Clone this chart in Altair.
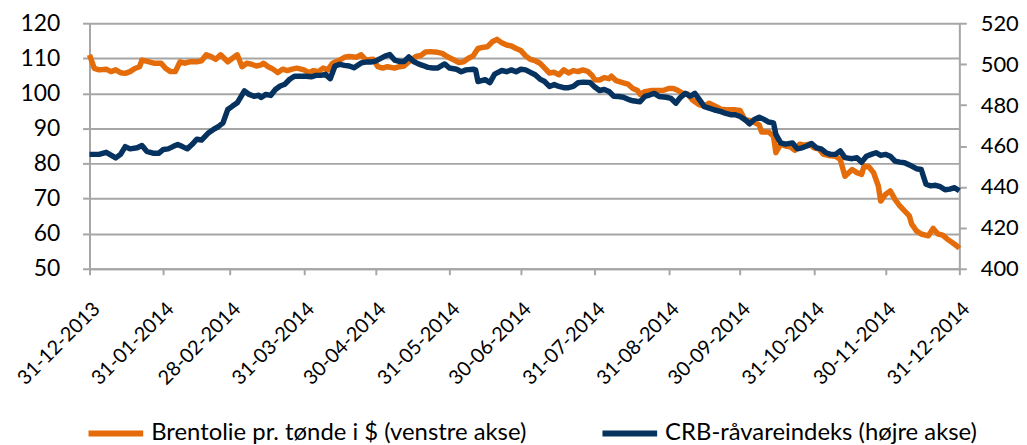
import altair as alt
import pandas as pd

START = "2013-12-31"
BRENT_LABEL = "Brentolie pr. tønde i $ (venstre akse)"
CRB_LABEL = "CRB-råvareindeks (højre akse)"

brent_days = [0, 2, 4, 7, 9, 11, 13, 15, 17, 19, 21, 22, 25, 27, 30, 32, 34, 36, 38, 40,
              42, 45, 47, 49, 51, 53, 55, 58, 60, 62, 64, 66, 68, 70, 72, 73, 75, 77, 79, 81,
              83, 85, 87, 90, 92, 94, 96, 98, 100, 102, 105, 107, 109, 112, 114, 116, 119, 121, 123, 125,
              128, 130, 132, 134, 137, 139, 141, 143, 146, 148, 150, 153, 155, 157, 159, 161, 163, 165, 167, 169,
              171, 173, 175, 177, 179, 181, 183, 185, 187, 189, 191, 193, 195, 197, 199, 201, 203, 205, 207, 209,
              211, 212, 214, 216, 218, 219, 221, 224, 226, 228, 230, 231, 233, 236, 239, 241, 243, 245, 247, 249,
              251, 253, 256, 258, 260, 263, 265, 268, 271, 273, 275, 277, 279, 281, 282, 285, 287, 288, 290, 292,
              294, 296, 298, 300, 302, 304, 306, 308, 310, 313, 315, 316, 317, 320, 322, 324, 325, 327, 329, 331,
              332, 334, 336, 338, 340, 342, 344, 345, 347, 349, 352, 354, 356, 358, 360, 362, 364, 365]
brent_vals = [111.0, 107.1, 106.7, 106.9, 106.2, 106.7, 105.9, 105.7, 106.2, 107.1, 107.6, 109.5, 109.0, 108.6, 108.6, 107.1, 106.2, 106.2, 109.0, 108.6,
              109.0, 109.0, 109.3, 111.0, 110.5, 109.7, 111.0, 109.0, 110.0, 111.0, 107.6, 108.6, 108.3, 107.8, 108.1, 108.6, 107.6, 106.9, 105.9, 106.9,
              106.5, 106.9, 107.2, 106.7, 105.9, 106.5, 106.2, 107.2, 106.7, 108.6, 109.5, 110.3, 110.5, 110.3, 111.0, 109.5, 109.7, 107.6, 107.2, 107.6,
              107.2, 107.6, 107.8, 109.0, 110.5, 110.8, 111.8, 111.9, 111.7, 111.4, 110.5, 109.5, 108.8, 109.0, 110.0, 110.7, 112.8, 113.1, 113.3, 114.7,
              115.4, 114.4, 113.8, 113.5, 112.8, 112.2, 110.7, 109.7, 109.3, 108.6, 107.2, 105.8, 106.0, 105.3, 106.7, 105.8, 106.5, 106.2, 106.7, 106.3,
              105.0, 103.9, 103.8, 104.5, 104.2, 104.9, 103.6, 103.0, 102.6, 101.4, 100.8, 99.7, 100.5, 100.8, 100.8, 100.9, 101.4, 101.4, 100.8, 100.0,
              99.8, 98.1, 96.7, 96.4, 97.2, 96.2, 95.5, 95.3, 95.3, 95.1, 92.5, 92.3, 91.7, 91.0, 89.0, 89.0, 87.8, 83.1, 85.5, 85.0,
              84.8, 83.8, 85.5, 85.2, 85.5, 84.5, 84.2, 82.6, 82.3, 82.1, 81.2, 78.8, 76.4, 78.3, 77.4, 76.9, 79.3, 79.1, 77.4, 73.6,
              69.3, 71.2, 72.2, 69.8, 67.9, 66.5, 65.1, 62.7, 60.8, 59.9, 59.4, 61.5, 59.9, 59.6, 58.4, 57.5, 56.5, 55.8]

crb_days = [0, 2, 4, 7, 11, 13, 15, 17, 20, 22, 24, 27, 29, 31, 33, 35, 37, 39, 41, 43,
            45, 47, 50, 52, 54, 56, 58, 60, 62, 65, 67, 69, 71, 72, 74, 76, 78, 80, 82, 84,
            86, 88, 91, 93, 95, 97, 99, 101, 103, 105, 107, 109, 111, 114, 116, 118, 120, 122, 124, 126,
            128, 130, 132, 134, 136, 138, 140, 142, 144, 146, 149, 151, 154, 156, 158, 161, 162, 163, 166, 168,
            170, 173, 175, 177, 179, 181, 183, 185, 187, 189, 191, 193, 195, 197, 199, 201, 203, 205, 207, 210,
            212, 214, 216, 218, 220, 222, 224, 226, 228, 231, 233, 235, 237, 239, 242, 244, 246, 248, 250, 252,
            254, 256, 258, 260, 262, 265, 267, 269, 271, 273, 275, 277, 279, 281, 283, 285, 287, 288, 290, 292,
            295, 297, 299, 301, 303, 305, 307, 309, 311, 313, 315, 317, 320, 322, 324, 326, 328, 330, 332, 334,
            336, 338, 340, 342, 345, 347, 349, 351, 353, 355, 357, 359, 361, 363, 365]
crb_vals = [455.9, 455.9, 455.9, 456.9, 454.2, 455.9, 459.7, 458.6, 459.1, 460.2, 457.4, 456.4, 456.4, 458.3, 458.6, 459.7, 460.7, 459.7, 458.6, 460.7,
            463.3, 462.9, 466.5, 468.1, 469.4, 471.3, 477.8, 479.5, 481.1, 486.9, 485.2, 484.3, 484.8, 483.7, 485.2, 484.7, 487.6, 489.3, 490.2, 492.6,
            494.1, 494.1, 494.1, 493.8, 494.5, 494.5, 495.0, 492.9, 499.1, 499.9, 499.4, 499.1, 498.2, 500.6, 501.0, 501.0, 501.5, 502.7, 503.9, 504.7,
            502.0, 501.3, 501.3, 503.5, 501.3, 500.1, 499.3, 498.4, 498.1, 498.1, 500.1, 498.1, 497.5, 496.3, 497.2, 497.5, 497.2, 491.5, 492.4, 491.0,
            495.1, 496.9, 496.3, 497.2, 496.3, 497.5, 497.2, 496.0, 494.8, 492.7, 491.5, 489.1, 490.0, 489.1, 488.5, 488.5, 489.1, 490.9, 491.2, 491.0,
            488.8, 487.1, 487.6, 486.6, 484.3, 484.2, 483.8, 482.8, 482.1, 481.6, 484.2, 484.9, 485.7, 484.2, 483.8, 483.3, 480.9, 483.8, 485.7, 484.3,
            485.7, 482.5, 479.2, 478.5, 477.7, 476.8, 475.9, 475.3, 475.3, 474.4, 472.9, 470.8, 473.0, 474.1, 473.0, 471.7, 471.3, 465.7, 461.5, 460.9,
            461.5, 458.6, 459.1, 460.0, 461.2, 459.1, 458.6, 456.7, 455.9, 455.9, 457.6, 454.3, 453.8, 454.3, 452.1, 455.0, 455.9, 456.7, 455.4, 455.9,
            455.0, 452.6, 452.1, 451.8, 450.2, 448.9, 448.5, 441.3, 440.5, 440.8, 440.1, 438.6, 438.9, 439.6, 438.1]

tick_dates = ["2013-12-31", "2014-01-31", "2014-02-28", "2014-03-31", "2014-04-30", "2014-05-31",
              "2014-06-30", "2014-07-31", "2014-08-31", "2014-09-30", "2014-10-31", "2014-11-30",
              "2014-12-31"]
left_ticks = [50, 60, 70, 80, 90, 100, 110, 120]
right_ticks = [400, 420, 440, 460, 480, 500, 520]

ORANGE = "#E46C0A"
NAVY = "#06325F"
GRAY = "#A6A6A6"
FONT = "Lato"

start = pd.Timestamp(START)
brent_df = pd.DataFrame({
    "date": [start + pd.Timedelta(days=d) for d in brent_days],
    "value": brent_vals,
    "series": BRENT_LABEL,
})
crb_df = pd.DataFrame({
    "date": [start + pd.Timedelta(days=d) for d in crb_days],
    "value": crb_vals,
    "series": CRB_LABEL,
})

def to_dt(s):
    y, m, d = (int(p) for p in s.split("-"))
    return alt.DateTime(year=y, month=m, date=d)

x_enc = alt.X(
    "date:T",
    scale=alt.Scale(domain=[to_dt(tick_dates[0]), to_dt(tick_dates[-1])]),
    axis=alt.Axis(
        values=[to_dt(s) for s in tick_dates],
        format="%d-%m-%Y",
        title=None,
        grid=False,
        domainColor=GRAY, domainWidth=2,
        tickColor=GRAY, tickWidth=2, tickSize=6,
        labelAngle=315, labelAlign="right", labelBaseline="middle",
        labelPadding=31, labelOffset=7,
        labelFlush=False, labelOverlap=False,
        labelFont=FONT, labelFontSize=20, labelColor="black",
    ),
)

color_enc = alt.Color(
    "series:N",
    scale=alt.Scale(domain=[BRENT_LABEL, CRB_LABEL], range=[ORANGE, NAVY]),
    legend=alt.Legend(
        orient="none", legendX=-4, legendY=382, direction="horizontal", title=None,
        symbolType="stroke", symbolSize=3025, symbolStrokeWidth=6,
        labelFont=FONT, labelFontSize=24, labelColor="black", labelLimit=1000,
        labelOffset=5, columnPadding=64,
    ),
)

brent = alt.Chart(brent_df).mark_line(strokeWidth=5.5, strokeJoin="round").encode(
    x=x_enc,
    y=alt.Y(
        "value:Q",
        scale=alt.Scale(domain=[50, 120], nice=False, zero=False),
        axis=alt.Axis(
            values=left_ticks, title=None, orient="left",
            grid=True, gridColor=GRAY, gridWidth=2,
            domainColor=GRAY, domainWidth=2,
            tickColor=GRAY, tickWidth=2, tickSize=7,
            labelFont=FONT, labelFontSize=23, labelColor="black",
            labelPadding=23, labelOverlap=False, labelFlush=False,
        ),
    ),
    color=color_enc,
)

crb = alt.Chart(crb_df).mark_line(strokeWidth=5.5, strokeJoin="round").encode(
    x=x_enc,
    y=alt.Y(
        "value:Q",
        scale=alt.Scale(domain=[400, 520], nice=False, zero=False),
        axis=alt.Axis(
            values=right_ticks, title=None, orient="right",
            grid=False,
            domainColor=GRAY, domainWidth=2,
            tickColor=GRAY, tickWidth=2, tickSize=7,
            labelFont=FONT, labelFontSize=22, labelColor="black",
            labelPadding=14, labelOverlap=False, labelFlush=False,
        ),
    ),
    color=color_enc,
)

chart = (
    alt.layer(brent, crb)
    .resolve_scale(y="independent")
    .properties(
        width=875, height=247,
        padding={"left": 5, "top": 3, "right": 0, "bottom": 0},
        background="white",
    )
    .configure_view(stroke=None)
)

chart.save("out.html", embed_options={"renderer": "svg", "actions": False})
